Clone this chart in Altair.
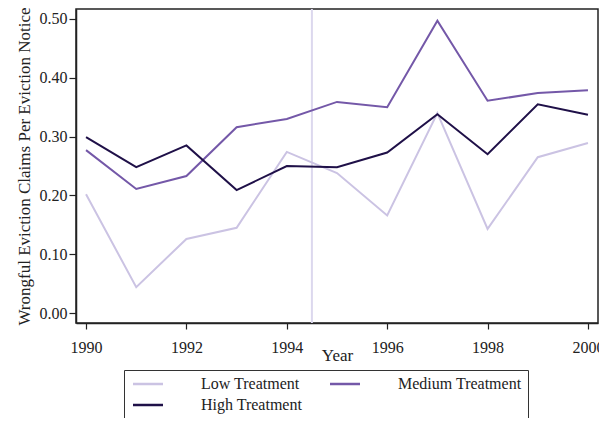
import altair as alt
import pandas as pd

years = list(range(1990, 2001))
low = [0.202, 0.044, 0.126, 0.145, 0.274, 0.238, 0.166, 0.340, 0.143, 0.265, 0.289]
medium = [0.277, 0.211, 0.233, 0.316, 0.330, 0.359, 0.350, 0.497, 0.361, 0.374, 0.379]
high = [0.299, 0.248, 0.285, 0.209, 0.250, 0.248, 0.273, 0.338, 0.270, 0.355, 0.337]

groups = ["Low Treatment", "Medium Treatment", "High Treatment"]
colors = ["#cbc3e3", "#7458a8", "#1f1048"]
cutoff = [1994.5]

rows = []
for name, vals in zip(groups, [low, medium, high]):
    for yr, v in zip(years, vals):
        rows.append({"year": yr, "value": v, "group": name})
df = pd.DataFrame(rows)

font = "Liberation Serif"

x = alt.X(
    "year:Q",
    scale=alt.Scale(domain=[1989.8, 2000.2], nice=False, zero=False),
    axis=alt.Axis(
        title="Year", values=[1990, 1992, 1994, 1996, 1998, 2000], format="d",
        grid=False, tickSize=6, labelPadding=10, titleY=24, titleBaseline="top",
        labelFlush=False,
    ),
)
y = alt.Y(
    "value:Q",
    scale=alt.Scale(domain=[-0.017, 0.517], nice=False, zero=False),
    axis=alt.Axis(
        title="Wrongful Eviction Claims Per Eviction Notice",
        values=[0, 0.1, 0.2, 0.3, 0.4, 0.5], format=".2f",
        grid=False, tickSize=7, labelPadding=2, titlePadding=6,
    ),
)

lines = alt.Chart(df).mark_line(strokeWidth=2).encode(
    x=x,
    y=y,
    color=alt.Color(
        "group:N",
        scale=alt.Scale(domain=groups, range=colors),
        sort=groups,
        legend=alt.Legend(
            title=None, orient="none", legendX=48, legendY=361, columns=2,
            direction="horizontal",
            symbolType="M-1,0H5", symbolSize=100, symbolStrokeWidth=2.5,
            labelOffset=55, columnPadding=22, rowPadding=5, padding=6,
            strokeColor="#333", fillColor="white", labelLimit=300,
        ),
    ),
)

rule = alt.Chart(pd.DataFrame({"x": cutoff})).mark_rule(
    color="#dcd8ee", strokeWidth=2
).encode(x="x:Q")

chart = alt.layer(rule, lines).properties(
    width=522, height=314,
    autosize=alt.AutoSizeParams(type="none"),
    padding={"left": 68, "top": 1, "right": 1, "bottom": 95},
).configure_view(
    stroke="#222", strokeWidth=1.5
).configure_axis(
    labelFont=font, titleFont=font, labelFontSize=16, titleFontSize=17,
    titleFontWeight="normal", labelColor="#222", titleColor="#222",
    domainColor="#222", tickColor="#222", domainWidth=1.5, tickWidth=1.2,
).configure_legend(
    labelFont=font, labelFontSize=16, labelColor="#222",
)

chart.save("out.html", embed_options={"renderer": "svg", "actions": False})
